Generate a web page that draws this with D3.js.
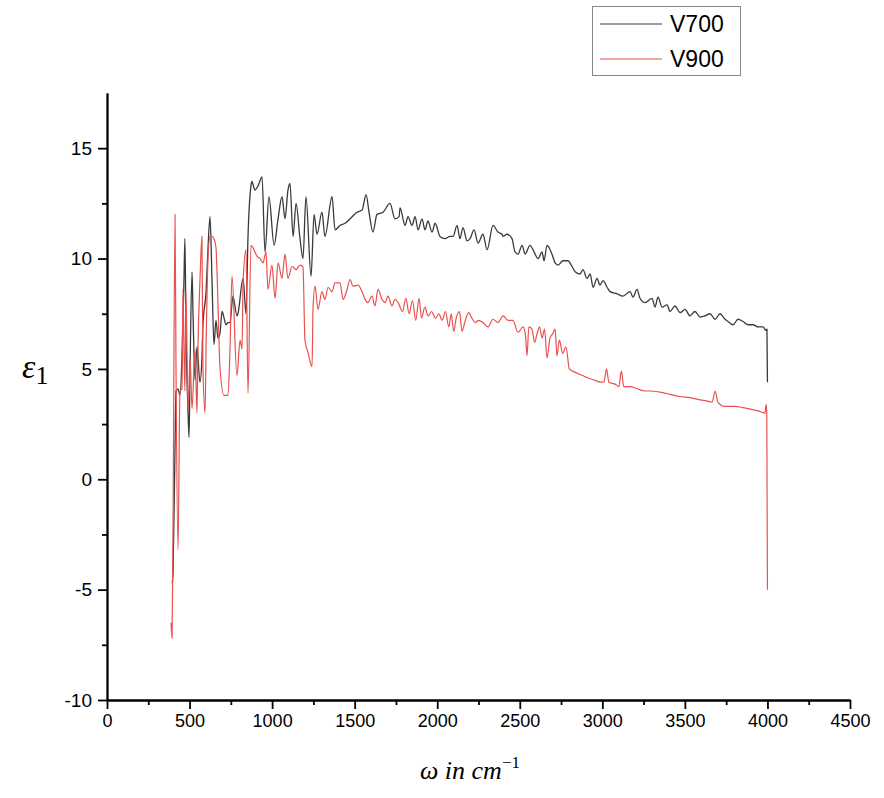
<!DOCTYPE html>
<html>
<head>
<meta charset="utf-8">
<script src="https://cdn.jsdelivr.net/npm/d3@7"></script>
<style>
    body { margin: 0; background: #ffffff; }
    .axis path, .axis line { stroke: #000; stroke-width: 1.8; }
    .axis text { font-family: "Liberation Sans", Arial, sans-serif; fill: #000; }
</style>
</head>
<body>
<div id="Chart"></div>
<script>
// V700 spectrum : [wavenumber cm-1, epsilon_1]
var v700 = [
    [395,-4.7],[400,-4.2],[412,1.5],[418,4.0],[430,4.1],[442,3.8],[454,5.5],[466,9.0],[472,10.9],
    [478,7.0],[491,3.0],[497,1.9],[503,5.0],[515,9.4],[521,7.5],[533,4.5],[545,6.0],[563,4.4],
    [575,5.5],[581,7.0],[600,8.5],[612,10.5],[624,11.9],[636,9.0],[648,6.1],[660,7.2],[672,6.4],
    [684,6.6],[697,7.6],[709,7.3],[721,7.0],[733,7.1],[745,7.1],[763,8.3],[787,7.4],[793,7.5],
    [824,9.1],[842,7.5],[854,11.0],[872,13.3],[878,13.5],[890,13.2],[896,13.1],[915,13.3],[939,13.7],
    [957,10.3],[981,12.8],[1012,10.6],[1036,11.8],[1060,12.8],[1078,11.8],[1096,13.1],[1108,13.4],
    [1127,11.0],[1145,12.5],[1169,10.9],[1187,10.0],[1205,12.8],[1236,9.2],[1254,12.0],[1272,11.1],
    [1302,12.1],[1320,11.0],[1363,12.8],[1381,11.3],[1411,11.5],[1442,11.6],[1472,11.8],[1514,12.1],
    [1545,12.2],[1569,12.9],[1587,12.1],[1611,11.2],[1635,12.0],[1672,12.1],[1714,12.5],[1744,11.8],
    [1769,11.9],[1775,12.3],[1805,11.5],[1823,11.9],[1847,11.5],[1866,11.9],[1884,11.3],[1908,11.8],
    [1926,11.3],[1944,11.7],[1969,11.2],[1987,11.6],[2017,11.0],[2047,10.9],[2078,11.0],[2096,11.0],
    [2120,11.5],[2138,10.9],[2156,11.4],[2181,10.8],[2199,10.9],[2223,11.3],[2247,10.7],[2277,11.1],
    [2302,10.4],[2338,11.5],[2368,11.2],[2393,11.1],[2399,11.0],[2423,11.1],[2453,10.9],[2471,10.3],
    [2489,10.2],[2514,10.6],[2532,10.2],[2562,10.6],[2580,10.4],[2611,10.0],[2635,10.3],[2647,9.9],
    [2665,10.6],[2695,10.2],[2714,9.8],[2732,9.7],[2762,9.9],[2792,9.9],[2816,9.65],[2835,9.4],
    [2865,9.3],[2883,9.5],[2907,9.1],[2926,9.3],[2944,8.7],[2968,9.1],[2986,8.8],[3004,9.0],
    [3029,8.7],[3047,8.5],[3089,8.4],[3125,8.3],[3168,8.5],[3186,8.25],[3210,8.6],[3228,8.2],
    [3259,8.0],[3301,8.2],[3319,7.8],[3337,8.25],[3362,7.8],[3392,7.9],[3410,7.6],[3440,7.85],
    [3471,7.55],[3501,7.7],[3531,7.4],[3561,7.6],[3592,7.35],[3622,7.4],[3652,7.5],[3683,7.25],
    [3713,7.5],[3743,7.25],[3761,7.15],[3792,7.0],[3822,7.25],[3852,7.15],[3883,7.0],[3913,7.0],
    [3943,6.9],[3973,6.9],[3990,6.75],[3997,6.8],[4000,4.4]
];

// V900 spectrum : [wavenumber cm-1, epsilon_1]
var v900 = [
    [388,-6.5],[394,-7.2],[400,-2.0],[412,12.0],[418,5.0],[430,-3.2],[442,4.0],[454,4.1],[460,8.6],
    [466,6.0],[472,4.0],[478,8.5],[491,3.1],[503,5.5],[515,3.2],[533,5.9],[545,3.0],[551,6.0],
    [563,9.0],[575,11.0],[581,5.1],[594,3.0],[600,6.0],[612,10.0],[624,11.0],[636,11.0],[648,10.9],
    [660,10.5],[672,8.0],[684,5.1],[709,3.8],[733,3.8],[745,5.9],[757,9.2],[787,4.7],[806,6.3],
    [818,5.9],[824,8.9],[842,10.4],[854,3.9],[872,10.6],[890,10.4],[909,10.1],[927,10.0],[945,9.8],
    [963,10.3],[975,8.6],[999,9.7],[1018,8.2],[1036,9.8],[1060,9.1],[1078,10.2],[1096,9.1],[1121,9.65],
    [1145,9.5],[1169,9.7],[1187,9.6],[1199,6.3],[1217,5.75],[1242,5.1],[1248,7.8],[1260,8.75],
    [1278,7.7],[1302,8.5],[1320,8.15],[1339,8.7],[1363,8.5],[1381,8.9],[1411,8.9],[1430,8.15],
    [1454,8.6],[1472,9.05],[1490,8.75],[1520,8.8],[1545,8.5],[1563,8.15],[1581,8.0],[1605,8.3],
    [1623,7.85],[1641,8.6],[1666,8.15],[1684,8.0],[1702,8.3],[1726,7.85],[1744,8.15],[1763,8.0],
    [1790,7.6],[1810,8.2],[1830,7.5],[1850,8.1],[1870,7.2],[1890,8.2],[1905,7.3],[1925,7.8],
    [1945,7.4],[1965,7.6],[1990,7.3],[2010,7.5],[2030,7.2],[2050,7.6],[2070,6.9],[2085,7.5],
    [2100,6.7],[2115,7.3],[2135,7.6],[2150,6.7],[2170,7.2],[2190,7.55],[2210,7.3],[2230,7.1],
    [2250,7.2],[2277,7.1],[2308,6.9],[2338,7.25],[2368,7.1],[2399,7.4],[2429,7.2],[2459,7.2],
    [2489,6.65],[2520,6.9],[2535,6.5],[2544,5.6],[2555,6.9],[2574,6.8],[2590,6.2],[2605,6.6],
    [2620,6.9],[2635,6.4],[2650,6.8],[2665,5.5],[2683,6.4],[2700,6.6],[2714,6.8],[2725,5.6],
    [2740,6.3],[2760,5.7],[2780,6.0],[2800,5.0],[2820,4.9],[2850,4.8],[2880,4.7],[2910,4.6],
    [2950,4.5],[2990,4.4],[3010,4.4],[3025,5.0],[3040,4.4],[3080,4.3],[3100,4.2],[3115,4.9],
    [3130,4.2],[3170,4.2],[3210,4.1],[3260,4.0],[3290,4.0],[3349,3.95],[3410,3.85],[3471,3.75],
    [3531,3.7],[3592,3.6],[3630,3.55],[3665,3.5],[3683,4.0],[3700,3.5],[3743,3.3],[3800,3.3],
    [3850,3.25],[3883,3.2],[3943,3.1],[3985,3.0],[3992,3.4],[3996,3.0],[4000,-5.0]
];

var xMajorTicks = [0, 500, 1000, 1500, 2000, 2500, 3000, 3500, 4000, 4500];
var xMinorTicks = [250, 750, 1250, 1750, 2250, 2750, 3250, 3750, 4250];
var yMajorTicks = [-10, -5, 0, 5, 10, 15];
var yMinorTicks = [-7.5, -2.5, 2.5, 7.5, 12.5];

var seriesNames = ["V700", "V900"];
var seriesColours = {"V700": "#3a3a3a", "V900": "#e8514f"};

var totalWidth = 884, totalHeight = 798;

// Plain labels: no thousands separator, ascii hyphen for negatives
var plainFormat = function (d) { return String(d); };

/**
 * Scales : plot area spans x 107 -> 850 and y 93 -> 700
 */
var xScale = d3.scaleLinear()
    .domain([0, 4500])
    .range([107, 850]);

var yScale = d3.scaleLinear()
    .domain([-10, 17.5])
    .range([700, 93]);

var svg = d3.select("#Chart")
    .append("svg")
    .attr("width", totalWidth)
    .attr("height", totalHeight);

// Minor ticks first (no labels)
svg.append("g")
    .attr("class", "x axis")
    .attr("transform", "translate(0," + yScale(-10) + ")")
    .call(d3.axisBottom(xScale).tickValues(xMinorTicks).tickSize(5).tickSizeOuter(0).tickFormat(""));

svg.append("g")
    .attr("class", "y axis")
    .attr("transform", "translate(" + xScale(0) + ",0)")
    .call(d3.axisLeft(yScale).tickValues(yMinorTicks).tickSize(5).tickSizeOuter(0).tickFormat(""));

// Major x ticks with labels
svg.append("g")
    .attr("class", "x axis")
    .attr("transform", "translate(0," + yScale(-10) + ")")
    .call(d3.axisBottom(xScale).tickValues(xMajorTicks).tickSize(9).tickSizeOuter(0).tickPadding(5).tickFormat(plainFormat))
    .selectAll("text")
    .style("font-size", "18px");

// Major y ticks with labels
svg.append("g")
    .attr("class", "y axis")
    .attr("transform", "translate(" + xScale(0) + ",0)")
    .call(d3.axisLeft(yScale).tickValues(yMajorTicks).tickSize(9).tickSizeOuter(0).tickPadding(6).tickFormat(plainFormat))
    .selectAll("text")
    .style("font-size", "19px");

/**
 * The two spectra
 */
var line = d3.line()
    .curve(d3.curveMonotoneX)
    .x(function (d) { return xScale(d[0]); })
    .y(function (d) { return yScale(d[1]); });

svg.append("path")
    .datum(v700)
    .attr("fill", "none")
    .attr("stroke", seriesColours["V700"])
    .attr("stroke-width", 1.3)
    .attr("stroke-linejoin", "round")
    .attr("d", line);

svg.append("path")
    .datum(v900)
    .attr("fill", "none")
    .attr("stroke", seriesColours["V900"])
    .attr("stroke-width", 1.2)
    .attr("stroke-linejoin", "round")
    .attr("d", line);

/**
 * Axis titles (italic math style)
 */
var yTitle = svg.append("text")
    .attr("x", 22)
    .attr("y", 378)
    .style("font-family", "'Liberation Serif', 'Times New Roman', serif")
    .style("font-size", "34px");
yTitle.append("tspan").style("font-style", "italic").text("ε");
yTitle.append("tspan").attr("dy", 6).style("font-size", "26px").text("1");

var xTitle = svg.append("text")
    .attr("x", 470)
    .attr("y", 779)
    .attr("text-anchor", "middle")
    .style("font-family", "'Liberation Serif', 'Times New Roman', serif")
    .style("font-style", "italic")
    .style("font-size", "26px");
xTitle.append("tspan").text("ω in cm");
xTitle.append("tspan").attr("dy", -11).style("font-size", "17px").style("font-style", "normal").text("−1");

/**
 * Legend box top right
 */
svg.append("rect")
    .attr("x", 592.5)
    .attr("y", 6.5)
    .attr("width", 148)
    .attr("height", 69)
    .attr("fill", "#fff")
    .attr("stroke", "#888")
    .attr("stroke-width", 1);

var i = 0;
seriesNames.forEach(function (name) {
    var ly = 24 + i * 35;
    svg.append("line")
        .attr("x1", 600)
        .attr("x2", 662)
        .attr("y1", ly)
        .attr("y2", ly)
        .attr("stroke", seriesColours[name])
        .attr("stroke-width", 1.2);
    svg.append("text")
        .attr("x", 670)
        .attr("y", ly + 8)
        .style("font-family", "'Liberation Sans', Arial, sans-serif")
        .style("font-size", "23px")
        .text(name);
    i += 1;
});
</script>
</body>
</html>
